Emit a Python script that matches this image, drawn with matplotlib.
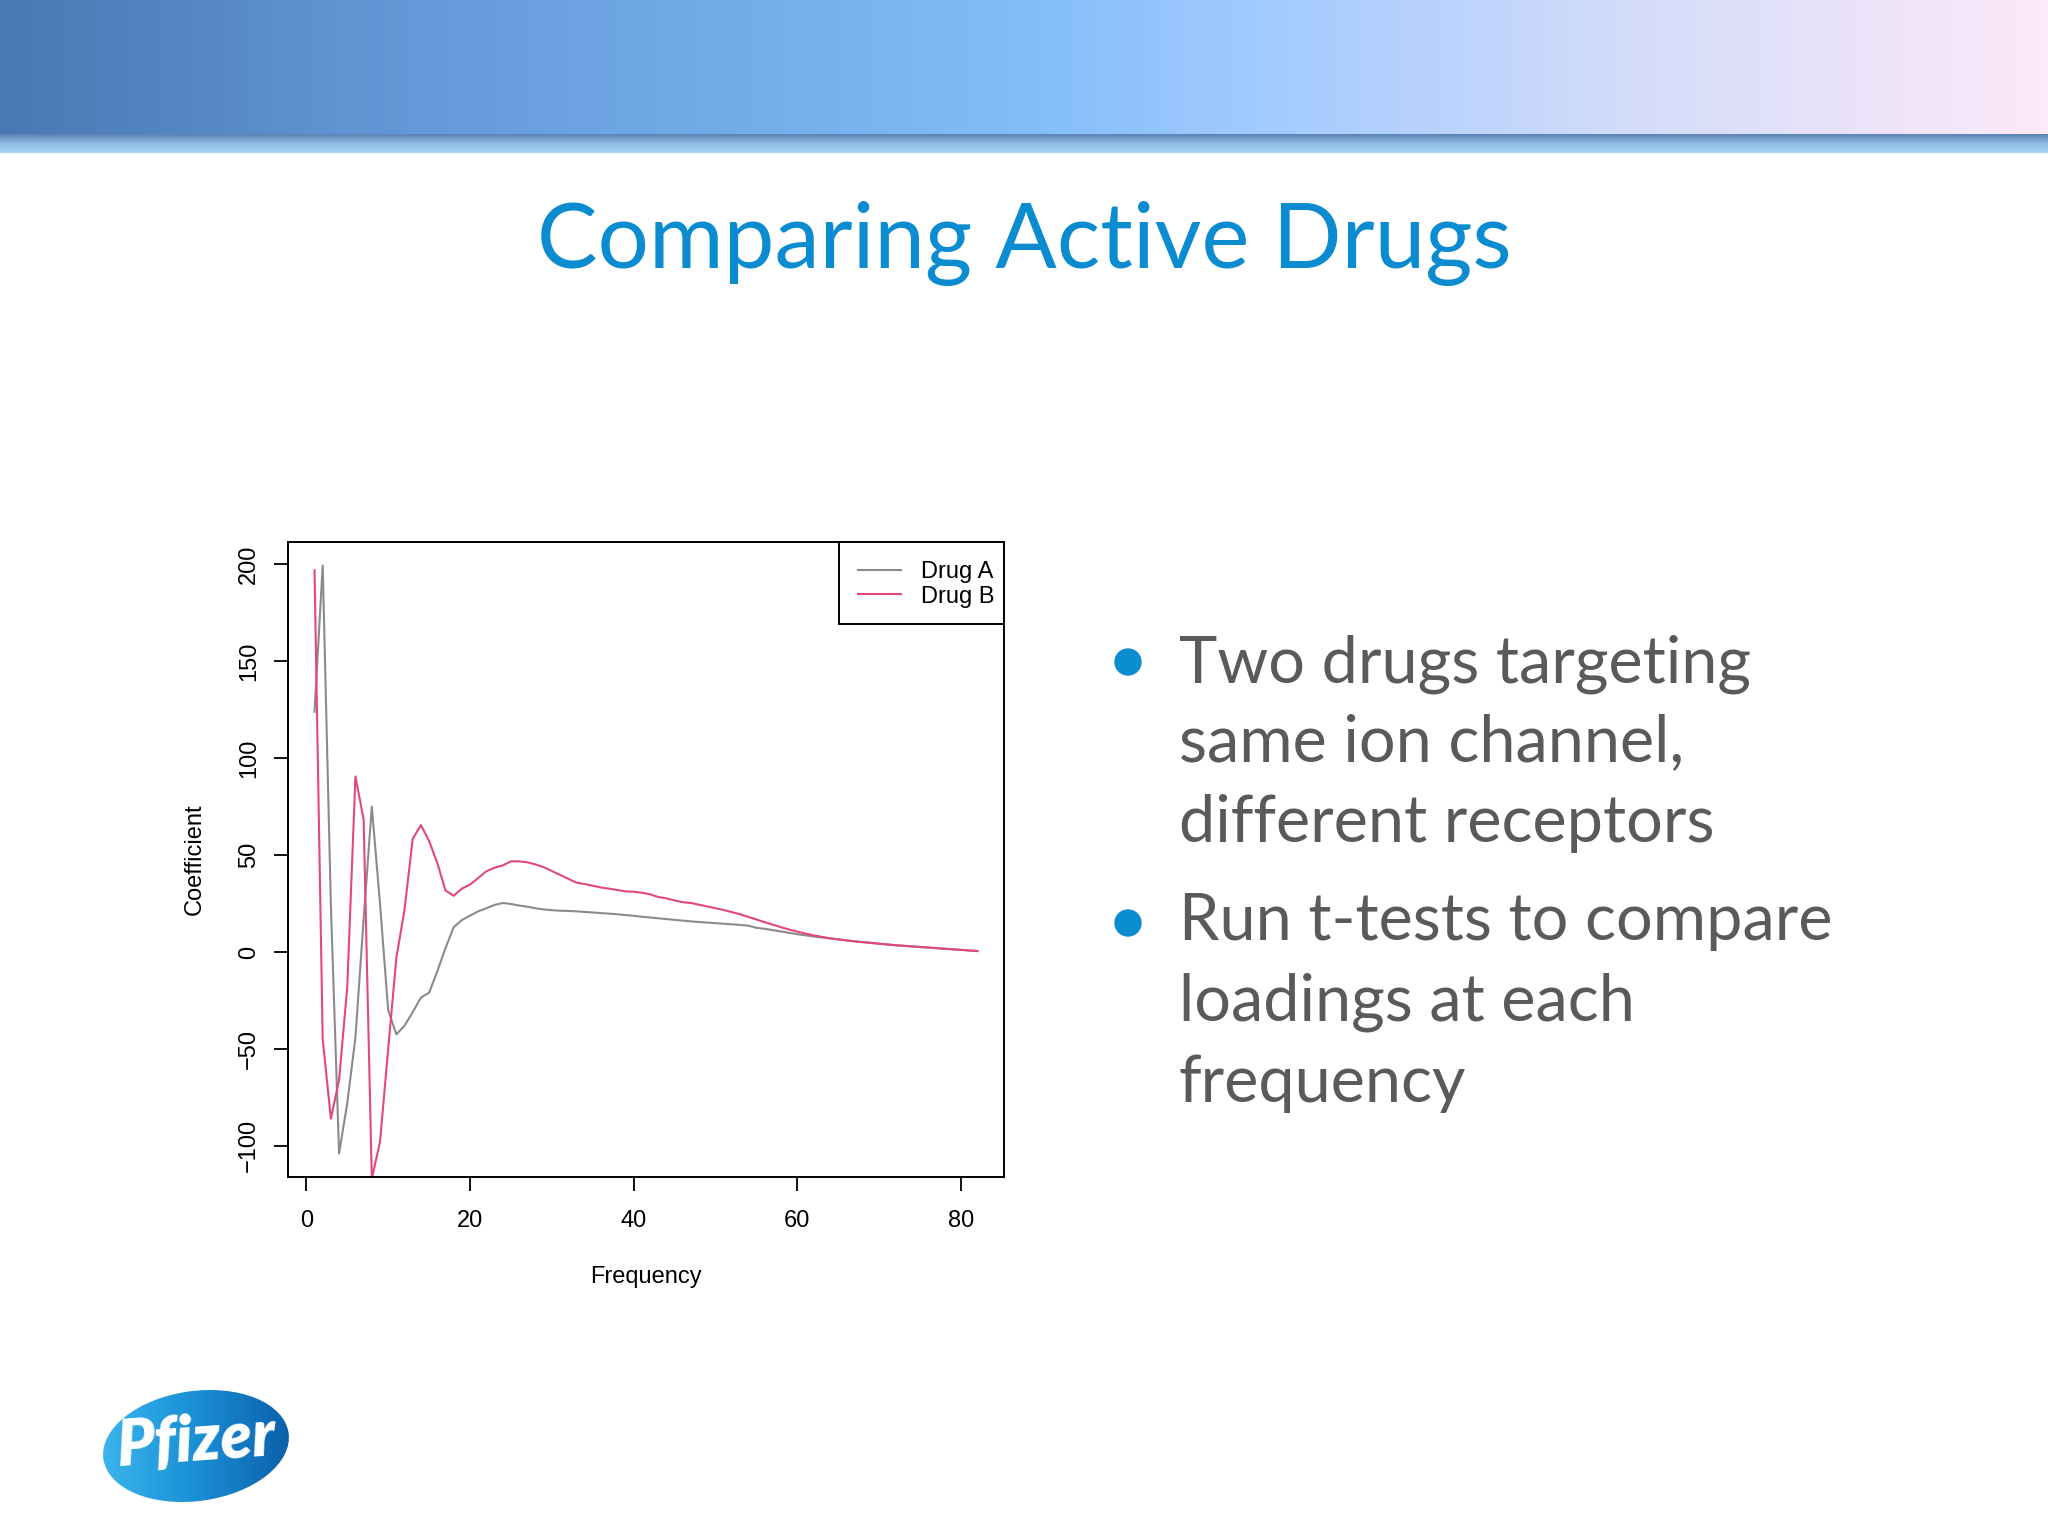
import numpy as np
import matplotlib
matplotlib.use("Agg")
import matplotlib.pyplot as plt
from matplotlib.patches import Ellipse, Circle, Rectangle
from matplotlib.colors import LinearSegmentedColormap

# ---------------- data ----------------
freq = list(range(1, 83))
drug_a = [124, 199.5, 24, -104, -78, -44, 17, 75, 25, -30,
          -42.5, -38, -31, -23.5, -21, -10, 2, 12.8, 16.5, 18.8,
          21, 22.6, 24.3, 25.3, 24.8, 24, 23.4, 22.6, 22, 21.6,
          21.3, 21.2, 21, 20.7, 20.4, 20.1, 19.8, 19.5, 19.1, 18.7,
          18.2, 17.8, 17.4, 17, 16.6, 16.2, 15.8, 15.5, 15.2, 14.9,
          14.6, 14.3, 14, 13.6, 12.5, 12, 11.3, 10.6, 9.9, 9.2,
          8.6, 8, 7.5, 7, 6.5, 6, 5.5, 5.1, 4.7, 4.3,
          3.9, 3.5, 3.2, 2.9, 2.6, 2.3, 2, 1.7, 1.4, 1.1,
          0.8, 0.5]
drug_b = [197, -45, -86, -66, -18, 90.6, 68.5, -117, -98, -50,
          -3, 22, 58.5, 65.5, 57.3, 46, 31.8, 29, 32.7, 34.8,
          38.2, 41.7, 43.5, 44.7, 46.8, 46.8, 46.3, 45.2, 43.8, 41.8,
          39.8, 37.8, 35.8, 35.1, 34.2, 33.3, 32.7, 32, 31.3, 31.1,
          30.6, 29.8, 28.4, 27.7, 26.6, 25.7, 25.3, 24.4, 23.5, 22.6,
          21.7, 20.6, 19.5, 18.1, 16.8, 15.4, 14.1, 12.8, 11.6, 10.5,
          9.5, 8.6, 7.8, 7.1, 6.5, 6.0, 5.5, 5.1, 4.7, 4.3,
          3.9, 3.5, 3.2, 2.9, 2.6, 2.3, 2, 1.7, 1.4, 1.1,
          0.8, 0.5]
series_labels = ["Drug A", "Drug B"]
x_ticks = [0, 20, 40, 60, 80]
y_ticks = [-100, -50, 0, 50, 100, 150, 200]
x_label = "Frequency"
y_label = "Coefficient"
title = "Comparing Active Drugs"
bullets = [["Two drugs targeting", "same ion channel,", "different receptors"],
           ["Run t-tests to compare", "loadings at each", "frequency"]]

W, H = 2048, 1536
fig = plt.figure(figsize=(W / 100, H / 100), dpi=100)
fig.patch.set_facecolor("white")

# background / slide axes in pixel coordinates
bg = fig.add_axes([0, 0, 1, 1])
bg.axis("off")

hdr = LinearSegmentedColormap.from_list(
    "hdr", [(0.0, "#4a78b4"), (0.2, "#6499d9"), (0.5, "#82bdf9"),
            (0.62, "#a3cbff"), (0.8, "#d4dcfa"), (1.0, "#fde9f9")])
bg.imshow(np.linspace(0, 1, 512)[None, :], cmap=hdr, extent=[0, W, 134, 0],
          aspect="auto", origin="upper", zorder=0)
stripe = LinearSegmentedColormap.from_list("st", ["#5c82b6", "#8fbde6", "#a8d3f3"])
bg.imshow(np.linspace(0, 1, 32)[:, None], cmap=stripe, extent=[0, W, 153, 134],
          aspect="auto", origin="upper", zorder=0)

bg.set_xlim(0, W)
bg.set_ylim(H, 0)

renderer = fig.canvas.get_renderer()

def fit_size(txt, target_w, base, family, weight):
    t = bg.text(0, 0, txt, fontsize=base, family=family, fontweight=weight)
    w = t.get_window_extent(renderer=renderer).width
    t.remove()
    return base * target_w / w

blue = "#0b8bd0"
# title
ts_h = 75
ts_w = fit_size(title, 931, ts_h, "Lato", "normal")
ts = ts_h ** 0.25 * ts_w ** 0.75
bg.text(1024, 268, title, ha="center", va="baseline", fontsize=ts,
        color=blue, family="Lato", fontweight="normal")

# bullets
bs_h = 51
bs_w = fit_size(bullets[1][0], 635, bs_h, "Lato", "normal")
bs = bs_h ** 0.25 * bs_w ** 0.75
baselines = [[682, 761, 842], [940, 1021, 1102]]
dots = [662, 923]
for grp, bls, dy in zip(bullets, baselines, dots):
    bg.add_patch(Circle((1128, dy), 13, color=blue, zorder=2))
    for line, yb in zip(grp, bls):
        bg.text(1179, yb, line, ha="left", va="baseline", fontsize=bs,
                color="#5a5a5d", family="Lato", fontweight="normal")

# Pfizer logo
ell = Ellipse((196, 1446), 187, 110, angle=-8, facecolor="none", edgecolor="none")
bg.add_patch(ell)
logo_cmap = LinearSegmentedColormap.from_list("lg", ["#3cb6ec", "#1a8fd6", "#0b5fa8"])
im = bg.imshow(np.linspace(0, 1, 256)[None, :], cmap=logo_cmap,
               extent=[100, 292, 1505, 1388], aspect="auto", origin="upper", zorder=1)
im.set_clip_path(ell)
bg.text(196, 1442, "Pfizer", ha="center", va="center", fontsize=46,
        color="white", family="Lato", fontweight="heavy", style="italic",
        rotation=4, zorder=3)
bg.set_xlim(0, W)
bg.set_ylim(H, 0)

# axis labels (slide pixel coords)
bg.text(646, 1277, x_label, ha="center", va="center", fontsize=17,
        family="Liberation Sans", color="black")
bg.text(195, 859, y_label, ha="center", va="center", fontsize=17,
        rotation=90, family="Liberation Sans", color="black")

# ---------------- chart ----------------
ax = fig.add_axes([288 / W, 1 - 1177 / H, 716 / W, 635 / H])
ax.set_facecolor("white")
ax.plot(freq, drug_a, color="#8a8a8a", lw=1.5, label=series_labels[0])
ax.plot(freq, drug_b, color="#e2487a", lw=1.5, label=series_labels[1])
ax.set_xlim(-2.24, 85.24)
ax.set_ylim(-116.1, 211.6)
ax.set_xticks(x_ticks)
ax.set_yticks(y_ticks)
ax.set_xticklabels([str(v) for v in x_ticks], family="Liberation Sans", fontsize=17)
ax.set_yticklabels([str(v).replace("-", "\u2212") for v in y_ticks],
                   family="Liberation Sans", fontsize=17, rotation=90, va="center")
ax.tick_params(axis="both", direction="out", length=10, width=1.3, color="black")
ax.tick_params(axis="x", pad=14)
ax.tick_params(axis="y", pad=10)
for sp in ax.spines.values():
    sp.set_linewidth(1.4)
    sp.set_color("black")

# legend box (R style) and legend entries
ax.add_patch(Rectangle((0.769, 0.871), 0.231, 0.129, transform=ax.transAxes,
                       facecolor="white", edgecolor="black", lw=1.4, zorder=5,
                       clip_on=False))
leg = ax.legend(loc="center left", bbox_to_anchor=(0.796, 0.9335), frameon=False,
                prop={"family": "Liberation Sans", "size": 17},
                handlelength=1.83, handletextpad=0.85, borderpad=0,
                borderaxespad=0, labelspacing=0.12)
leg.set_zorder(6)

fig.savefig("out.png", dpi=100, facecolor="white")
